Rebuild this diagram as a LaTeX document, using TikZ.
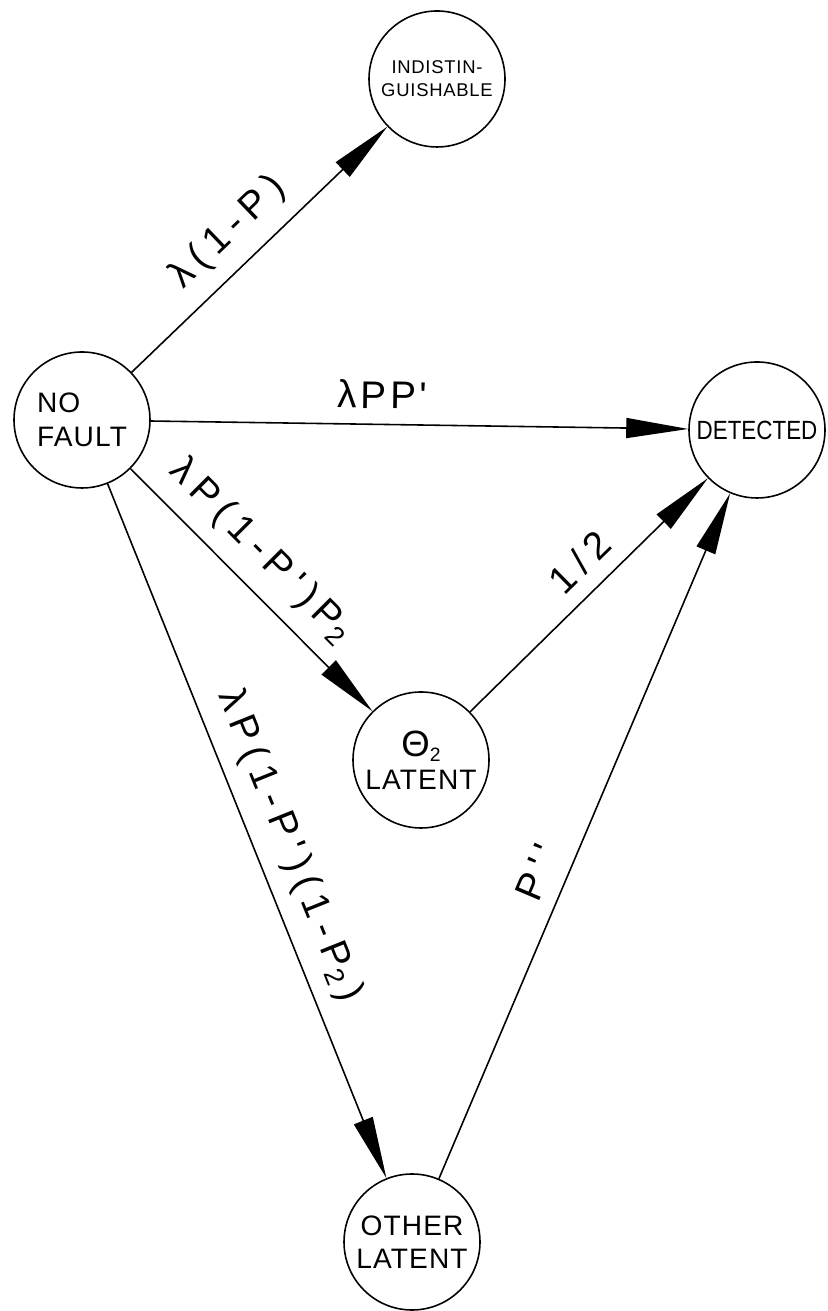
\documentclass[tikz,border=0pt]{standalone}
\usepackage{fontspec}
\setmainfont{Liberation Sans}
\newfontfamily\cadfont[LetterSpace=20]{Liberation Sans}
\newfontfamily\cadmid[LetterSpace=10]{Liberation Sans}
\newfontfamily\cadtext[LetterSpace=4]{Liberation Sans}
\newfontfamily\cadnarrow[FakeStretch=0.85]{Liberation Sans}
\newcommand{\cadsub}[1]{\raisebox{-0.35ex}{\fontsize{11}{12}\selectfont #1}}
\usetikzlibrary{arrows.meta}

\begin{document}
\begin{tikzpicture}[
  state/.style={circle, draw, line width=0.9pt, minimum size=2.72cm,
                inner sep=0pt, align=center,
                font=\cadtext\fontsize{16}{19}\selectfont},
  arr/.style={-{Triangle[length=1.24cm, width=0.4cm]}, line width=0.9pt},
  lbl/.style={sloped, above=0.3cm, inner sep=0pt,
              font=\cadfont\fontsize{22}{26}\selectfont}
]
\useasboundingbox (0,0) rectangle (16.54,26.22);

\node[state, font=\cadtext\fontsize{10.5}{13}\selectfont] (indist) at (8.74,24.64) {INDISTIN-\\GUISHABLE};
\node[state, align=left] (nofault) at (1.64,17.82) {NO\\FAULT};
\node[state, font=\cadnarrow\fontsize{15}{18}\selectfont] (detect) at (15.14,17.62) {DETECTED};
\node[state] (theta) at (8.42,11.02) {\scalebox{1.3}{Θ}\cadsub{2}\\LATENT};
\node[state] (other) at (8.24,1.38) {OTHER\\LATENT};

\draw[arr] (nofault) -- node[lbl, pos=0.47] {λ(1-P)} (indist);
\draw[arr] (nofault) -- node[lbl, pos=0.43, font=\cadmid\fontsize{22}{26}\selectfont] {λPP'} (detect);
\draw[arr] (nofault) -- node[lbl, pos=0.44] {λP(1-P')P\textsubscript{2}} (theta);
\draw[arr] (nofault) -- node[lbl, pos=0.54] {λP(1-P')(1-P\textsubscript{2}\,)} (other);
\draw[arr] (theta) -- node[lbl, pos=0.55] {1/2} (detect);
\draw[arr] (other) -- node[lbl, pos=0.43] {P''} (detect);

\end{tikzpicture}
\end{document}
